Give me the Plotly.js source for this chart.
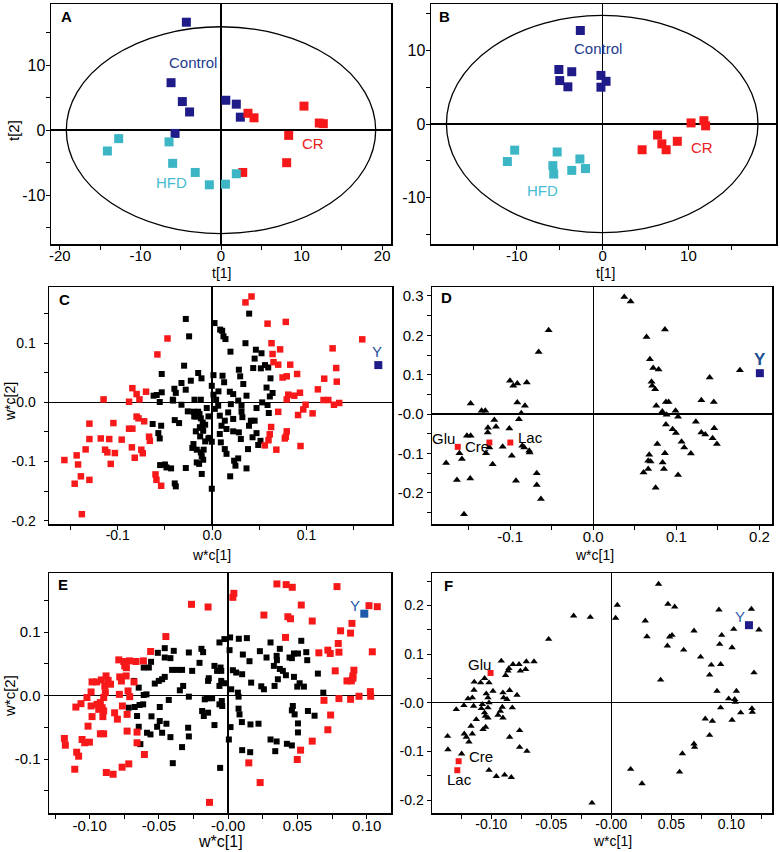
<!DOCTYPE html>
<html><head><meta charset="utf-8">
<script src="https://cdn.plot.ly/plotly-3.0.1.min.js"></script>
<style>html,body{margin:0;padding:0;background:#fff}#chart{width:780px;height:852px}</style>
</head><body><div id="chart"></div>
<script>
// ---------- Panel A (PCA scores) ----------
const aControlX = [-4.3, -6.2, -4.8, -3.9, 0.6, 1.9, 2.4, -5.7];
const aControlY = [16.6, 7.3, 4.4, 2.8, 4.6, 4.0, 2.0, -0.5];
const aCRX = [3.35, 4.1, 10.3, 12.2, 12.7, 8.4, 8.15, 2.7];
const aCRY = [2.6, 1.9, 3.7, 1.1, 1.0, -0.8, -5.0, -6.5];
const aHFDX = [-12.7, -14.1, -6.45, -6.0, -3.2, -1.45, 0.55, 1.9];
const aHFDY = [-1.3, -3.2, -1.8, -5.1, -6.5, -8.4, -8.3, -6.7];
// ---------- Panel B (PLS-DA scores) ----------
const bControlX = [-2.6, -5.1, -3.6, -5.0, -4.05, -0.2, 0.4, -0.2];
const bControlY = [12.7, 7.4, 7.1, 5.9, 5.05, 6.6, 5.8, 5.0];
const bCRX = [4.6, 6.4, 6.9, 7.4, 8.7, 10.3, 11.8, 12.0];
const bCRY = [-3.5, -1.5, -2.7, -3.5, -2.35, 0.15, 0.45, -0.25];
const bHFDX = [-10.25, -11.1, -5.3, -5.8, -5.7, -3.6, -2.65, -2.0];
const bHFDY = [-3.55, -5.1, -3.8, -5.65, -6.8, -6.3, -4.75, -6.05];
// ---------- Panel C (loadings) ----------
const cRedX = [-0.0473,-0.058,-0.0845,-0.080,-0.077,-0.088,-0.070,-0.115,-0.080,-0.078,-0.072,-0.1046,-0.130,-0.088,-0.0845,-0.118,-0.109,-0.0958,-0.130,-0.0668,-0.066,-0.085,-0.134,-0.1134,-0.111,-0.103,-0.075,-0.0735,-0.082,-0.1565,-0.1435,-0.142,-0.1074,-0.139,-0.130,-0.1456,-0.060,-0.059,-0.054,-0.138,
0.0353,0.0417,0.0587,0.078,0.0629,0.072,0.064,0.065,0.070,0.0827,0.0746,0.079,0.090,0.1276,0.159,0.1314,0.132,0.1187,0.112,0.0806,0.087,0.093,0.079,0.118,0.123,0.129,0.1346,0.099,0.0965,0.091,0.1064,0.070,0.0625,0.061,0.0597,0.0558,0.079,0.078,0.077,0.068,0.0936];
const cRedY = [0.108,0.081,0.024,0.014,0.005,0.001,0.018,0.005,-0.024,-0.027,-0.032,-0.035,-0.036,-0.0445,-0.0445,-0.061,-0.062,-0.063,-0.062,-0.058,-0.065,-0.076,-0.0795,-0.080,-0.0845,-0.0857,-0.080,-0.086,-0.0936,-0.0975,-0.0896,-0.105,-0.104,-0.125,-0.131,-0.1375,-0.1218,-0.131,-0.141,-0.189,
0.169,0.179,0.133,0.136,0.100,0.0896,0.0817,0.068,0.0637,0.0637,0.042,0.044,0.048,0.0913,0.1065,0.058,0.035,0.040,0.022,0.013,0.0113,0.0163,0.005,0.004,0.004,-0.004,-0.001,-0.004,-0.012,-0.0214,-0.0186,-0.016,-0.0417,-0.054,-0.064,-0.0727,-0.049,-0.058,-0.061,-0.080,-0.0738];
const cBlackX = [-0.0279,-0.0244,-0.0297,-0.0534,-0.0148,-0.0113,-0.0226,-0.0325,-0.040,-0.028,-0.0534,-0.062,-0.0587,-0.0417,-0.0555,-0.0325,-0.0187,-0.012,-0.0004,0.0025,0.0014,0.0028,-0.0198,-0.0148,-0.0173,-0.012,-0.010,-0.013,-0.0095,-0.0396,-0.035,-0.063,-0.054,-0.057,-0.0555,-0.0173,-0.0074,-0.0004,-0.004,-0.021,-0.0163,-0.012,-0.009,-0.011,-0.0095,-0.0163,-0.0138,-0.0551,-0.050,-0.0484,-0.0435,-0.0279,-0.011,-0.0396,-0.0385,-0.0004,-0.0413,
-0.0258,-0.019,-0.0134,-0.0106,-0.0127,-0.0057,-0.0039,-0.0074,-0.0028,-0.0198,-0.0385,0.0014,0.0042,0.0067,0.0085,0.012,
0.0392,0.0106,0.0141,0.0353,0.0194,0.0463,0.0523,0.045,0.0435,0.0516,0.056,0.0594,0.0283,0.0297,0.033,0.0618,0.0576,0.064,0.0611,0.0364,0.0187,0.0223,0.0127,0.011,0.053,0.0587,0.047,0.060,0.0276,0.0311,0.0311,0.032,0.041,0.045,0.039,0.0223,0.017,0.0134,0.0081,0.0099,0.0152,0.0223,0.0283,0.0304,0.047,0.0428,0.0512,0.0488,0.038,0.0092,0.0134,0.0152,0.0233,0.0276,0.0247,0.0364,0.0191,0.0081,0.0198,0.0064];
const cBlackY = [0.141,0.1116,0.062,0.048,0.0496,0.0406,0.0366,0.0327,0.023,0.0214,0.017,0.0113,0.0124,0.0045,0.0006,-0.004,0.0045,0.0045,0.028,0.134,0.046,-0.011,-0.0158,-0.0158,-0.024,-0.027,-0.034,-0.042,-0.048,-0.030,-0.035,-0.0366,-0.0395,-0.052,-0.061,-0.049,-0.066,-0.0665,-0.061,-0.077,-0.080,-0.0845,-0.080,-0.091,-0.097,-0.1015,-0.104,-0.106,-0.105,-0.110,-0.1116,-0.111,-0.121,-0.137,-0.142,-0.146,0.003,
-0.0152,-0.0237,-0.0197,-0.0434,-0.0575,-0.0096,-0.0237,-0.0378,-0.060,-0.0705,0.016,0.013,0.0045,0.0186,0.123,0.1116,
0.150,0.121,0.107,0.100,0.0857,0.089,0.083,0.074,0.058,0.0575,0.063,0.059,0.0552,0.044,0.031,0.0406,0.025,0.0158,0.010,0.0113,0.018,0.014,0.034,0.045,0.000,-0.0045,-0.0096,-0.018,0.003,-0.0056,-0.0158,-0.025,-0.031,-0.031,-0.0395,-0.028,-0.017,-0.031,-0.0225,-0.0395,-0.045,-0.049,-0.0507,-0.062,-0.052,-0.059,-0.065,-0.072,-0.079,-0.0676,-0.079,-0.087,-0.0986,-0.0947,-0.107,-0.1116,-0.125,-0.0535,-0.003,-0.0056];
const cYX = [0.176], cYY = [0.063];
// ---------- Panel D (S-plot style loadings) ----------
const dTriX = [0.0373,0.0449,-0.0537,-0.0657,0.0862,0.0641,0.0681,0.0721,0.0786,0.0701,0.0709,0.0745,-0.1002,-0.0962,-0.0914,-0.080,-0.1475,-0.1343,-0.1299,-0.0914,-0.0822,-0.0866,-0.0894,-0.119,-0.117,-0.1267,-0.127,-0.101,-0.152,-0.1475,-0.125,-0.129,-0.109,-0.098,-0.0854,-0.083,-0.077,-0.0766,-0.161,-0.158,-0.177,-0.121,-0.164,-0.148,-0.093,-0.068,-0.068,-0.063,-0.1555,
0.0874,0.0906,0.0758,0.083,0.0882,0.099,0.102,0.130,0.145,0.140,0.1764,0.1234,0.0874,0.0954,0.0994,0.130,0.1347,0.1455,0.1435,0.1487,0.1062,0.1094,0.1174,0.077,0.0862,0.0834,0.085,0.102,0.0673,0.0661,0.069,0.0661,0.0605,0.075];
const dTriY = [0.297,0.2855,0.213,0.158,0.215,0.196,0.139,0.117,0.113,0.082,0.072,0.063,0.0845,0.072,0.0777,0.080,0.027,0.0084,0.0084,0.0296,0.021,0.0025,-0.0127,-0.015,-0.032,-0.0346,-0.0465,-0.0363,-0.055,-0.055,-0.0845,-0.099,-0.083,-0.1056,-0.080,-0.0845,-0.093,-0.097,-0.099,-0.114,-0.124,-0.127,-0.167,-0.163,-0.169,-0.150,-0.180,-0.215,-0.254,
0.031,0.031,0.021,0.0068,-0.0017,0.0084,-0.0068,0.0355,0.031,0.093,0.1115,-0.0194,-0.026,-0.038,-0.048,-0.0465,-0.0515,-0.0355,-0.061,-0.076,-0.070,-0.0845,-0.0997,-0.076,-0.099,-0.1225,-0.139,-0.1546,-0.103,-0.118,-0.12,-0.139,-0.148,-0.187];
const dMetNames = ["Glu", "Cre", "Lac"];
const dMetX = [-0.163, -0.125, -0.0998];
const dMetY = [-0.083, -0.072, -0.072];
const dYX = [0.2004], dYY = [0.104];
// ---------- Panel E (loadings) ----------
const eRedX = [-0.0265,-0.0145,-0.045,-0.056,-0.079,-0.0754,-0.0713,-0.0665,-0.0612,-0.0747,-0.0735,-0.0983,-0.095,-0.0916,-0.0882,-0.0867,-0.085,-0.0891,-0.0783,-0.0771,-0.0737,-0.068,-0.099,-0.102,-0.1063,-0.110,-0.099,-0.0947,-0.0923,-0.0899,-0.0887,-0.091,-0.0935,-0.0899,-0.0983,-0.0905,-0.0786,-0.0723,-0.0711,-0.0764,-0.082,-0.080,-0.073,-0.1012,-0.0923,-0.0899,-0.073,-0.0658,-0.0658,-0.0605,-0.1183,-0.1176,-0.1055,-0.1036,-0.1002,-0.1094,-0.108,-0.1108,-0.088,-0.0831,-0.0766,-0.0718,-0.0135,
0.0041,0.0034,0.0352,0.0419,0.0463,0.0786,0.0528,0.0258,0.0431,0.045,0.0607,0.0894,0.1017,0.1077,0.0812,0.0884,0.0414,0.0795,0.1041,0.0655,0.072,0.0737,0.080,0.0773,0.0908,0.0901,0.0858,0.089,0.0901,0.0692,0.080,0.0884,0.0945,0.1027,0.1029,0.074,0.072,0.0607,0.0523,0.0499,0.0149,0.0231];
const eRedY = [0.1437,0.1395,0.093,0.0695,0.0563,0.0537,0.0547,0.0537,0.0547,0.0468,0.044,0.0216,0.0216,0.0247,0.031,0.024,0.018,0.015,0.0295,0.023,0.031,0.0216,0.0058,-0.003,-0.0126,-0.018,-0.0163,-0.0137,-0.011,-0.003,0.0047,-0.019,-0.0216,-0.024,-0.033,-0.033,0.002,0.0074,-0.0016,-0.0163,-0.027,-0.037,-0.0295,-0.048,-0.060,-0.060,-0.0558,-0.0574,-0.0742,-0.0926,-0.0674,-0.078,-0.069,-0.0742,-0.0732,-0.089,-0.0953,-0.1158,-0.121,-0.1237,-0.1126,-0.1074,-0.168,
0.161,0.1547,0.1758,0.1747,0.1705,0.1716,0.1426,0.1268,0.1242,0.121,0.1174,0.1137,0.1416,0.14,0.102,0.0984,0.0916,0.0821,0.069,0.0674,0.0716,0.0663,0.0684,0.039,0.040,0.031,0.0232,0.0232,0.0274,-0.0074,-0.0047,-0.0058,-0.001,0.0063,-0.001,-0.0305,-0.0537,-0.0716,-0.0858,-0.1005,-0.1058,-0.1368];
const eBlackX = [-0.0458,-0.0508,-0.0393,-0.0417,-0.0458,-0.0284,-0.0193,-0.0181,-0.0207,-0.0557,-0.0573,-0.061,-0.0405,-0.0369,-0.0333,-0.026,-0.0458,-0.0477,-0.0501,-0.053,-0.068,-0.0646,-0.059,-0.061,-0.0429,-0.0325,-0.0349,-0.0284,-0.0718,-0.0675,-0.064,-0.0614,-0.0494,-0.0658,-0.0646,-0.0554,-0.0494,-0.0513,-0.0446,-0.0586,-0.0561,-0.0477,-0.0417,-0.0289,-0.0284,-0.0333,-0.0634,-0.040,-0.0145,-0.014,-0.0169,-0.0116,-0.0099,-0.008,-0.0188,-0.0176,-0.0145,-0.0099,-0.0152,
-0.0027,0.0014,-0.0063,0.001,0.0077,0.0135,0.0106,0.0154,0.0229,0.0277,0.0306,0.035,0.0373,0.0352,0.033,0.0373,0.0395,0.0417,0.0443,0.0475,0.0504,0.046,0.0528,0.0564,0.0571,0.0648,0.0475,0.0516,0.0499,0.0547,0.0359,0.0335,0.0239,0.0258,0.0166,0.0034,0.0058,0.0101,-0.0055,-0.005,-0.005,-0.0022,-0.0063,0.0022,0.007,0.0075,0.0687,-0.0046,-0.0063,0.0075,0.0082,0.0099,0.0161,0.0219,0.0017,0.0005,0.0101,0.0159,0.0306,0.035,0.034,0.0424,0.046,0.0467,0.046,0.048,0.0576,0.0624,0.0504,0.0504,-0.0058,-0.0043];
const eBlackY = [0.0747,0.0674,0.0705,0.059,0.060,0.0679,0.0737,0.0684,0.0516,0.0532,0.0442,0.0442,0.0405,0.0405,0.0405,0.039,0.0295,0.0258,0.0232,0.019,0.0232,0.0126,0.002,0.001,-0.0068,0.0153,0.0084,-0.0016,-0.019,-0.0179,-0.0147,-0.0137,-0.0179,-0.0321,-0.049,-0.0326,-0.040,-0.049,-0.0442,-0.0584,-0.061,-0.0584,-0.0653,-0.0505,-0.0642,-0.081,-0.0763,-0.1063,0.0232,0.0274,-0.0058,-0.0042,0.0468,0.039,-0.0242,-0.0321,-0.0268,-0.0463,-0.0042,
0.089,0.0916,0.0837,0.0716,0.0895,0.0905,0.0647,0.0542,0.070,0.060,0.0837,0.0626,0.0737,0.0558,0.0468,0.042,0.039,0.0321,0.060,0.0663,0.0663,0.059,0.0863,0.0684,0.0558,0.0347,0.0295,0.0195,0.0142,0.0142,0.0258,0.0153,0.0147,0.01,0.0205,0.040,0.0363,0.0337,0.0442,0.039,0.0232,0.0195,0.0153,0.01,0.0047,-0.0016,0.0047,-0.0084,-0.0137,-0.0205,-0.0295,-0.0416,-0.0453,-0.0442,-0.0495,-0.069,-0.0858,-0.089,-0.069,-0.0721,-0.0874,-0.0758,-0.0784,-0.0163,-0.0232,-0.0295,-0.0242,-0.0316,-0.0437,-0.0579,-0.1137,-0.0163];
const eYX = [0.0983], eYY = [0.129];
// ---------- Panel F (S-plot style loadings) ----------
const fTriX = [0.0394,0.005,0.0036,0.0472,0.0528,0.0897,0.1167,0.0283,0.0297,0.0506,0.0486,0.0689,0.102,0.123,0.092,0.0467,0.0603,0.0903,0.1006,0.0744,0.0833,0.0911,0.0819,0.1189,0.0411,0.0881,0.1042,0.0978,0.1028,0.1033,0.0911,0.1078,0.1172,0.1175,0.0783,0.0842,0.1006,0.0819,0.0689,0.0694,0.0592,0.0569,0.0161,0.0256,-0.0161,
-0.0314,-0.0175,-0.0522,-0.0917,-0.0853,-0.0819,-0.0769,-0.0708,-0.0644,-0.0881,-0.0758,-0.0714,-0.0861,-0.1056,-0.1019,-0.1142,-0.1089,-0.0986,-0.1144,-0.1194,-0.1158,-0.1228,-0.1292,-0.1147,-0.1083,-0.1075,-0.1042,-0.1028,-0.1019,-0.1028,-0.1056,-0.1028,-0.1125,-0.105,-0.0903,-0.0897,-0.0847,-0.0869,-0.0786,-0.0908,-0.0825,-0.0925,-0.0944,-0.0903,-0.1169,-0.1069,-0.1047,-0.1225,-0.1158,-0.1208,-0.1186,-0.1364,-0.1361,-0.1247,-0.0847,-0.0764,-0.0764,-0.0703,-0.1019,-0.0958,-0.0889,-0.0833];
const fTriY = [0.2438,0.2005,0.1738,0.2026,0.197,0.191,0.1923,0.1683,0.136,0.1387,0.1353,0.1477,0.1511,0.1497,0.1387,0.1168,0.1085,0.1202,0.1133,0.0941,0.0776,0.079,0.057,0.0618,0.0467,0.024,0.024,0.0082,0.0069,0.0014,-0.0103,-0.0206,-0.0117,-0.0192,-0.033,-0.0378,-0.0357,-0.0666,-0.0845,-0.0913,-0.1044,-0.1422,-0.1367,-0.1662,-0.206,
0.1786,0.1758,0.1305,0.0859,0.0707,0.079,0.079,0.0845,0.0845,0.0563,0.0652,0.0687,0.0652,0.0501,0.0412,0.0426,0.0412,0.024,0.0261,0.0082,0.0103,-0.0055,-0.0137,-0.0069,-0.0117,-0.0034,0.0185,0.0103,0,-0.0103,-0.0206,-0.0309,-0.0343,-0.0275,0.0206,0.0103,0.0254,0.0069,0.0158,-0.0089,-0.0103,-0.0172,-0.0254,-0.0309,-0.0481,-0.0549,-0.0501,-0.0639,-0.0639,-0.0707,-0.0804,-0.0687,-0.0962,-0.1051,-0.0707,-0.057,-0.0913,-0.0996,-0.1387,-0.1511,-0.1484,-0.1532];
const fMetNames = ["Glu", "Cre", "Lac"];
const fMetX = [-0.1006, -0.1272, -0.1283];
const fMetY = [0.0611, -0.1202, -0.1387];
const fYX = [0.1147], fYY = [0.1593];

// ---------- tick labels ----------
const abTicks = [-20,-15,-10,-5,0,5,10,15,20];
const abTickText = ["-20","","-10","","0","","10","","20"];
const bxTicks = [-15,-10,-5,0,5,10,15];
const bxTickText = ["","-10","","0","","10",""];
const abyTicks = [-15,-10,-5,0,5,10,15];
const abyTickText = ["","-10","","0","","10",""];
const cxTicks = [-0.15,-0.1,-0.05,0,0.05,0.1,0.15];
const cxTickText = ["","-0.1","","0.0","","0.1",""];
const cyTicks = [-0.2,-0.15,-0.1,-0.05,0,0.05,0.1,0.15];
const cyTickText = ["-0.2","","-0.1","","-0.0","","0.1",""];
const dxTicks = [-0.15,-0.1,-0.05,0,0.05,0.1,0.15,0.2];
const dxTickText = ["","-0.1","","0.0","","0.1","","0.2"];
const dyTicks = [-0.25,-0.2,-0.15,-0.1,-0.05,0,0.05,0.1,0.15,0.2,0.25,0.3];
const dyTickText = ["","-0.2","","-0.1","","-0.0","","0.1","","0.2","","0.3"];
const efxTicks = [-0.125,-0.1,-0.075,-0.05,-0.025,0,0.025,0.05,0.075,0.1,0.125];
const efxTickText = ["","-0.10","","-0.05","","-0.00","","0.05","","0.10",""];
const eyTicks = [-0.15,-0.1,-0.05,0,0.05,0.1,0.15];
const eyTickText = ["","-0.1","","0.0","","0.1",""];
const fyTicks = [-0.2,-0.15,-0.1,-0.05,0,0.05,0.1,0.15,0.2,0.25];
const fyTickText = ["-0.2","","-0.1","","-0.0","","0.1","","0.2",""];

const NAVY = "#1f1c8a", RED = "#f7191a", CYAN = "#3cb6c5";
const FONT = "Liberation Sans, Arial, Helvetica, sans-serif";

function sc(x, y, ax, color, symbol, size) {
  return {x: x, y: y, xaxis: "x" + ax, yaxis: "y" + ax, type: "scatter", mode: "markers",
    marker: {color: color, symbol: symbol, size: size, line: {width: 0}}, hoverinfo: "skip", showlegend: false};
}
const data = [
  sc(aControlX, aControlY, "", NAVY, "square", 9),
  sc(aCRX, aCRY, "", RED, "square", 9),
  sc(aHFDX, aHFDY, "", CYAN, "square", 9),
  sc(bControlX, bControlY, "2", NAVY, "square", 9),
  sc(bCRX, bCRY, "2", RED, "square", 9),
  sc(bHFDX, bHFDY, "2", CYAN, "square", 9),
  sc(cBlackX, cBlackY, "3", "#000", "square", 6),
  sc(cRedX, cRedY, "3", RED, "square", 6.5),
  sc(cYX, cYY, "3", NAVY, "square", 8),
  sc(dTriX, dTriY, "4", "#000", "triangle-up", 7),
  sc(dMetX, dMetY, "4", RED, "square", 6),
  sc(dYX, dYY, "4", NAVY, "square", 8),
  sc(eBlackX, eBlackY, "5", "#000", "square", 6),
  sc(eRedX, eRedY, "5", RED, "square", 7),
  sc(eYX, eYY, "5", "#1e5aa8", "square", 8),
  sc(fTriX, fTriY, "6", "#000", "triangle-up", 6.5),
  sc(fMetX, fMetY, "6", RED, "square", 6),
  sc(fYX, fYY, "6", NAVY, "square", 8)
];

function ax(domain, range, tv, tt, anchor, fs, standoff) {
  return {domain: domain, range: range, anchor: anchor, showline: true, mirror: true,
    linecolor: "#000", linewidth: 1.5, ticks: "outside", ticklen: 4, tickwidth: 1, tickcolor: "#000",
    showgrid: false, zeroline: true, zerolinecolor: "#000", zerolinewidth: 1.5,
    tickmode: "array", tickvals: tv, ticktext: tt, ticklabelstandoff: standoff,
    tickfont: {family: FONT, size: fs, color: "#000"}, fixedrange: true};
}
const W = 780, H = 852;
const xd = (a, b) => [a / W, b / W];
const yd = (top, bot) => [1 - bot / H, 1 - top / H];

const layout = {
  width: W, height: H, margin: {l: 0, r: 0, t: 0, b: 0}, paper_bgcolor: "#fff", plot_bgcolor: "#fff",
  showlegend: false, font: {family: FONT, color: "#000"},
  xaxis:  ax(xd(51, 391), [-21.1, 21.1], abTicks, abTickText, "y", 15, -7),
  yaxis:  ax(yd(4, 244), [-17.5, 19.4], abyTicks, abyTickText, "x", 16, -3),
  xaxis2: ax(xd(431, 776), [-20.0, 20.2], bxTicks, bxTickText, "y2", 15, -7),
  yaxis2: ax(yd(4, 244), [-16.3, 16.3], abyTicks, abyTickText, "x2", 16, -3),
  xaxis3: ax(xd(49, 392), [-0.1728, 0.1905], cxTicks, cxTickText, "y3", 14, -6),
  yaxis3: ax(yd(287, 524), [-0.2056, 0.195], cyTicks, cyTickText, "x3", 14, 5),
  xaxis4: ax(xd(432, 772), [-0.194, 0.215], dxTicks, dxTickText, "y4", 15, -6),
  yaxis4: ax(yd(287, 524), [-0.2787, 0.3226], dyTicks, dyTickText, "x4", 15, 0),
  xaxis5: ax(xd(49, 391), [-0.1294, 0.1176], efxTicks, efxTickText, "y5", 15, -6),
  yaxis5: ax(yd(573, 813), [-0.1847, 0.193], eyTicks, eyTickText, "x5", 15, 0),
  xaxis6: ax(xd(432, 772), [-0.1494, 0.1339], efxTicks, efxTickText, "y6", 14, -6),
  yaxis6: ax(yd(573, 813), [-0.2266, 0.2665], fyTicks, fyTickText, "x6", 14, 0),
  shapes: [
    {type: "circle", xref: "x", yref: "y", x0: -19.2, x1: 19.2, y0: -15.9, y1: 15.9, line: {color: "#000", width: 1.3}, layer: "below"},
    {type: "circle", xref: "x2", yref: "y2", x0: -18.2, x1: 18.1, y0: -14.75, y1: 14.75, line: {color: "#000", width: 1.3}, layer: "below"}
  ],
  annotations: []
};
function note(text, x, y, ref, color, size, xanchor, bold, angle) {
  layout.annotations.push({text: bold ? "<b>" + text + "</b>" : text, x: x, y: y,
    xref: ref === "paper" ? "paper" : "x" + ref, yref: ref === "paper" ? "paper" : "y" + ref,
    showarrow: false, xanchor: xanchor || "center", yanchor: "middle", textangle: angle || 0,
    font: {family: FONT, size: size, color: color}});
}
const px = (x, y) => [x / W, 1 - y / H];
// panel letters
note("A", ...px(66.7, 16.7), "paper", "#000", 15, "center", true);
note("B", ...px(444, 16), "paper", "#000", 15, "center", true);
note("C", ...px(64, 299.3), "paper", "#000", 15, "center", true);
note("D", ...px(446.7, 297.7), "paper", "#000", 15, "center", true);
note("E", ...px(63, 584.3), "paper", "#000", 15, "center", true);
note("F", ...px(448.3, 585), "paper", "#000", 15, "center", true);
// axis titles
note("t[1]", ...px(221.7, 273), "paper", "#000", 14);
note("t[2]", ...px(14, 130), "paper", "#000", 15, "center", false, -90);
note("t[1]", ...px(605, 273), "paper", "#000", 14);
note("w*c[1]", ...px(212, 555), "paper", "#000", 14);
note("w*c[2]", ...px(10, 402), "paper", "#000", 14, "center", false, -90);
note("w*c[1]", ...px(594, 555), "paper", "#000", 14);
note("w*c[1]", ...px(220, 841), "paper", "#000", 16);
note("w*c[2]", ...px(9, 696), "paper", "#000", 15, "center", false, -90);
note("w*c[1]", ...px(612, 841), "paper", "#000", 14);
// group labels
note("Control", -3.5, 10.4, "", "#223a8c", 15);
note("CR", 11.4, -2.1, "", "#e8211e", 15);
note("HFD", -6.1, -8.05, "", "#45bcd2", 15);
note("Control", -0.5, 10.3, "2", "#223a8c", 15);
note("CR", 11.6, -3.2, "2", "#e8211e", 15);
note("HFD", -7.0, -9.0, "2", "#45bcd2", 15);
note("Y", 0.175, 0.086, "3", "#1e4f9a", 15);
note("Y", 0.2004, 0.1377, "4", "#1f4f91", 17, "center", true);
note(dMetNames[0], -0.1635, -0.062, "4", "#000", 15, "right");
note(dMetNames[1], -0.157, -0.082, "4", "#000", 15, "left");
note(dMetNames[2], -0.093, -0.059, "4", "#000", 15, "left");
note("Y", 0.0918, 0.1416, "5", "#1e5aa8", 15);
note(fMetNames[0], -0.1097, 0.079, "6", "#000", 15);
note(fMetNames[1], -0.1203, -0.1113, "6", "#000", 15, "left");
note(fMetNames[2], -0.1264, -0.1587, "6", "#000", 15);
note("Y", 0.1069, 0.1765, "6", "#2e5da8", 15);

Plotly.newPlot("chart", data, layout, {staticPlot: true, displayModeBar: false});
</script>
</body></html>
